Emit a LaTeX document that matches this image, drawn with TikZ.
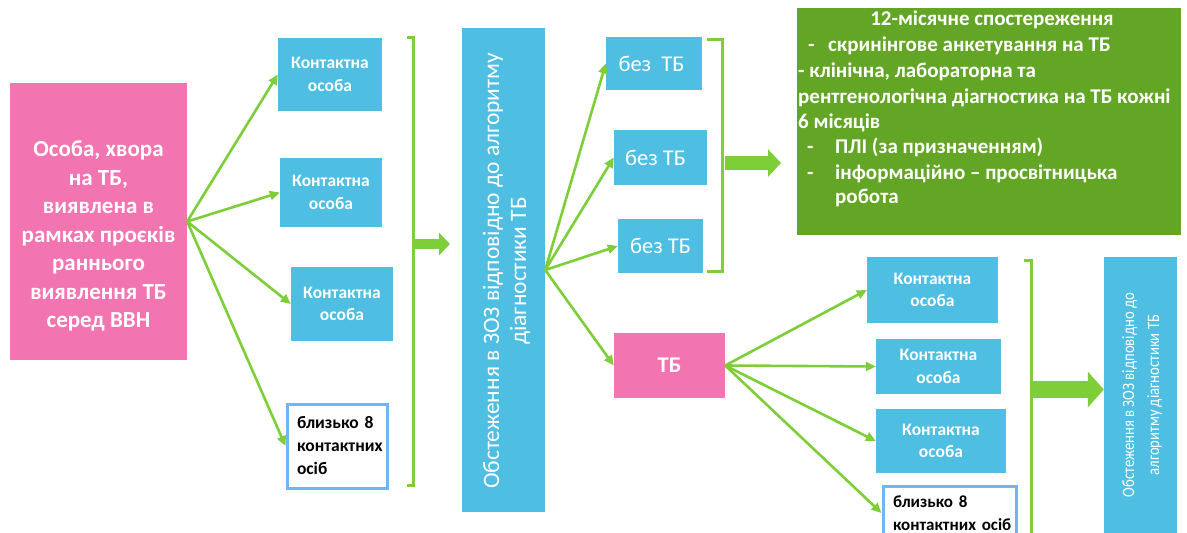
\documentclass[tikz,border=0pt]{standalone}
\usepackage{fontspec}
\setmainfont{Carlito}
\newfontfamily\condfont[FakeStretch=0.85]{Carlito}
\usetikzlibrary{arrows.meta,calc}
\definecolor{boxblue}{RGB}{78,190,227}
\definecolor{boxpink}{RGB}{242,116,176}
\definecolor{arrgreen}{RGB}{126,206,58}
\definecolor{boxgreen}{RGB}{99,165,37}
\definecolor{borderblue}{RGB}{110,182,246}
\tikzset{
  bx/.style={fill=boxblue, draw=none, inner sep=0pt, text=white, align=center},
  pbx/.style={fill=boxpink, draw=none, inner sep=0pt, text=white, align=center},
  wbx/.style={fill=white, draw=borderblue, line width=3pt, text=black, align=left,
    inner ysep=0pt, font=\bfseries\fontsize{17.5}{23}\selectfont},
  contact/.style={bx, font=\bfseries\fontsize{17.5}{22.5}\selectfont},
  notb/.style={bx, font=\fontsize{22.5}{26}\selectfont},
  gline/.style={anchor=base west, inner sep=0pt, text=white, font=\bfseries\fontsize{21}{25}\selectfont},
  thinarr/.style={draw=arrgreen, line width=2.6pt, -{Triangle[length=10pt,width=9pt]}},
  brk/.style={draw=arrgreen, line width=3pt},
}
\begin{document}
\begin{tikzpicture}[x=1pt,y=-1pt]
\clip (0,0) rectangle (1187,533);
\fill[white] (0,0) rectangle (1187,533);

% left pink box
\node[pbx, minimum width=177pt, minimum height=277pt] (pink) at (98.5,221.5) {};
\node[text=white, align=center, inner sep=0pt, font=\bfseries\fontsize{23}{28.5}\selectfont] (pinktxt) at (98.5,236)
  {Особа, хвора\\на ТБ,\\виявлена в\\рамках проєків\\раннього\\виявлення ТБ\\серед ВВН};

% left contacts
\node[contact, minimum width=104pt, minimum height=73pt] (c1) at (330,74.5) {Контактна\\особа};
\node[contact, minimum width=102pt, minimum height=69pt] (c2) at (331,192.5) {Контактна\\особа};
\node[contact, minimum width=102pt, minimum height=74pt] (c3) at (342,304) {Контактна\\особа};
\node[wbx, text width=80pt, inner xsep=10pt, minimum height=84pt] (c4) at (337,446) {близько 8\\контактних\\осіб};

\foreach \t in {c1,c2,c3,c4} \draw[thinarr] (pink.east) -- (\t.west);

% bracket 1 and big arrow
\coordinate (b1t) at (407,37);
\coordinate (b1b) at (407,485);
\coordinate (b1m) at (413,244);
\coordinate (a1e) at (450,244);
\draw[brk] (b1t) -- (413,37) -- (413,485) -- (b1b);
\draw[draw=arrgreen, line width=10pt, -{Triangle[length=11pt,width=22pt]}] (b1m) -- (a1e);

% tall blue box
\node[bx, minimum width=83pt, minimum height=484pt] (tall) at (503.5,270) {};
\node[rotate=90, text=white, align=center, inner sep=0pt, font=\fontsize{23.5}{27}\selectfont] (talltxt) at (506.5,271)
  {Обстеження в ЗОЗ відповідно до алгоритму\\діагностики ТБ};

% without TB boxes
\node[notb, minimum width=96pt, minimum height=53pt] (n1) at (654,63.5) {без\ \ ТБ\hspace*{5pt}};
\node[notb, minimum width=93pt, minimum height=55pt] (n2) at (660.5,157.5) {без ТБ\hspace*{10pt}};
\node[notb, minimum width=85pt, minimum height=54pt] (n3) at (660.5,246) {без ТБ};

% TB box
\node[pbx, minimum width=111pt, minimum height=65pt, font=\bfseries\fontsize{22.5}{26}\selectfont] (tb) at (669.5,365.5) {ТБ};

\foreach \t in {n1,n2,n3,tb} \draw[thinarr] (tall.east) -- (\t.west);

% bracket 2 and big arrow
\coordinate (b2t) at (707,39);
\coordinate (b2b) at (707,271);
\coordinate (b2m) at (725,163);
\coordinate (a2e) at (781,163);
\draw[brk] (b2t) -- (722,39) -- (722,271) -- (b2b);
\draw[draw=arrgreen, line width=14pt, -{Triangle[length=13pt,width=27pt]}] (b2m) -- (a2e);

% green box
\node[fill=boxgreen, draw=none, minimum width=384pt, minimum height=227pt, inner sep=0pt] (green) at (989,121.5) {};
\node[gline, anchor=base] (g1) at (992,25) {12-місячне спостереження};
\node[gline] (g2) at (808,51) {\makebox[20pt][l]{-}скринінгове анкетування на ТБ};
\node[gline] (g3) at (798,77) {- клінічна, лабораторна та};
\node[gline] (g4) at (798,103) {рентгенологічна діагностика на ТБ кожні};
\node[gline] (g5) at (798,128) {6 місяців};
\node[gline] (g6) at (807,153) {\makebox[28pt][l]{-}ПЛІ (за призначенням)};
\node[gline] (g7) at (807,179) {\makebox[28pt][l]{-}інформаційно – просвітницька};
\node[gline] (g8) at (835,203) {робота};

% right contacts
\node[contact, minimum width=131pt, minimum height=66pt] (r1) at (932.5,290) {Контактна\\особа};
\node[contact, minimum width=125pt, minimum height=55pt] (r2) at (938.5,366.5) {Контактна\\особа};
\node[contact, minimum width=130pt, minimum height=64pt] (r3) at (941,441) {Контактна\\особа};
\node[wbx, text width=113pt, inner xsep=10pt, minimum height=54pt, font=\bfseries\fontsize{17}{23}\selectfont] (r4) at (949.5,513) {близько 8\\контактних~осіб};

\foreach \t in {r1,r2,r3,r4} \draw[thinarr] (tb.east) -- (\t.west);

% bracket 3 and big arrow
\coordinate (b3t) at (1024,260);
\coordinate (b3b) at (1031,545);
\coordinate (b3m) at (1031,389.5);
\draw[brk] (b3t) -- (1031,260) -- (b3b);

% right blue box
\node[bx, minimum width=73pt, minimum height=283pt] (rtall) at (1140.5,398.5) {};
\node[rotate=90, text=white, align=center, inner sep=0pt, font=\condfont\fontsize{17.3}{25}\selectfont] (rtalltxt) at (1142,395)
  {Обстеження в ЗОЗ відповідно до\\алгоритму діагностики ТБ};
\draw[draw=arrgreen, line width=17pt, -{Triangle[length=16pt,width=35pt]}] (b3m) -- (rtall.west |- b3m);
\end{tikzpicture}
\end{document}
